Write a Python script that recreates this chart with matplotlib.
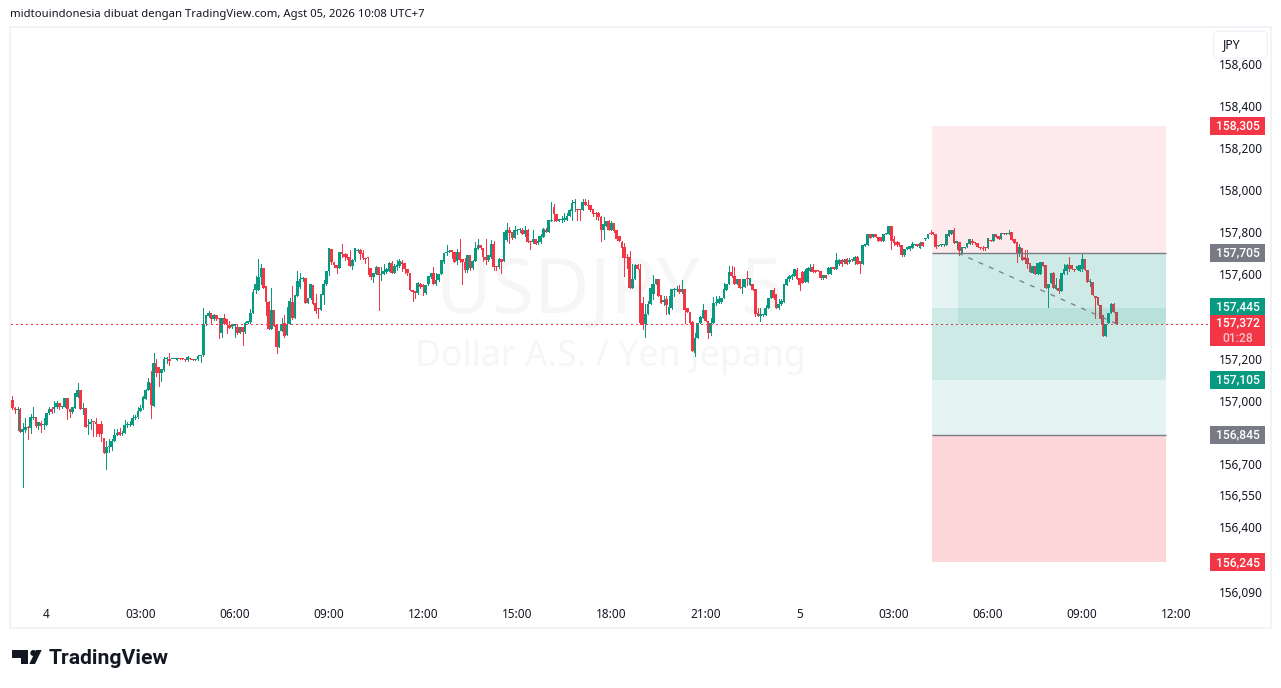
#!/usr/bin/env python3
import numpy as np
import matplotlib
matplotlib.use("Agg")
import matplotlib.pyplot as plt
from matplotlib.patches import Rectangle, Polygon, Circle, FancyBboxPatch
from matplotlib.transforms import ScaledTranslation

UP = "#089981"
DOWN = "#f23645"
GREY = "#787b86"
TEXT = "#131722"
OUT = "out.png"

# 5 minute bars
opens = [
    157.010, 156.975, 156.963, 156.971, 156.860, 156.870, 156.883, 156.878, 156.925, 156.930,
    156.889, 156.905, 156.894, 156.894, 156.949, 156.967, 156.967, 156.978, 156.996, 156.978,
    156.978, 157.019, 156.967, 156.955, 156.974, 157.024, 157.057, 156.969, 156.972, 156.887,
    156.899, 156.912, 156.908, 156.898, 156.898, 156.831, 156.760, 156.788, 156.788, 156.820,
    156.848, 156.859, 156.850, 156.854, 156.892, 156.892, 156.892, 156.925, 156.931, 156.960,
    156.972, 157.016, 157.059, 157.093, 156.982, 157.185, 157.169, 157.141, 157.155, 157.205,
    157.207, 157.205, 157.205, 157.200, 157.207, 157.207, 157.204, 157.200, 157.208, 157.207,
    157.201, 157.204, 157.219, 157.222, 157.369, 157.408, 157.421, 157.392, 157.411, 157.400,
    157.326, 157.400, 157.392, 157.366, 157.355, 157.361, 157.355, 157.328, 157.355, 157.334,
    157.377, 157.380, 157.424, 157.529, 157.531, 157.594, 157.633, 157.550, 157.476, 157.345,
    157.435, 157.364, 157.262, 157.337, 157.373, 157.317, 157.372, 157.474, 157.400, 157.502,
    157.545, 157.581, 157.586, 157.471, 157.491, 157.554, 157.468, 157.444, 157.435, 157.507,
    157.557, 157.619, 157.726, 157.663, 157.650, 157.633, 157.712, 157.702, 157.699, 157.685,
    157.644, 157.672, 157.715, 157.718, 157.704, 157.683, 157.683, 157.636, 157.594, 157.605,
    157.639, 157.601, 157.605, 157.617, 157.620, 157.660, 157.612, 157.639, 157.644, 157.663,
    157.660, 157.631, 157.609, 157.529, 157.528, 157.515, 157.560, 157.555, 157.517, 157.557,
    157.591, 157.609, 157.561, 157.577, 157.604, 157.662, 157.703, 157.711, 157.719, 157.712,
    157.668, 157.712, 157.675, 157.662, 157.627, 157.695, 157.635, 157.667, 157.722, 157.745,
    157.727, 157.687, 157.671, 157.686, 157.750, 157.643, 157.640, 157.679, 157.667, 157.766,
    157.816, 157.805, 157.774, 157.811, 157.813, 157.813, 157.796, 157.813, 157.761, 157.756,
    157.769, 157.753, 157.756, 157.782, 157.816, 157.804, 157.856, 157.922, 157.890, 157.856,
    157.863, 157.863, 157.863, 157.879, 157.903, 157.939, 157.914, 157.911, 157.906, 157.947,
    157.934, 157.931, 157.911, 157.895, 157.892, 157.876, 157.816, 157.835, 157.856, 157.816,
    157.848, 157.814, 157.785, 157.759, 157.733, 157.686, 157.686, 157.538, 157.584, 157.649,
    157.631, 157.471, 157.368, 157.419, 157.463, 157.510, 157.557, 157.584, 157.505, 157.474,
    157.486, 157.416, 157.444, 157.531, 157.531, 157.534, 157.521, 157.534, 157.447, 157.427,
    157.381, 157.235, 157.306, 157.376, 157.400, 157.436, 157.384, 157.326, 157.373, 157.468,
    157.471, 157.474, 157.491, 157.531, 157.557, 157.615, 157.597, 157.560, 157.584, 157.542,
    157.545, 157.589, 157.554, 157.560, 157.534, 157.424, 157.408, 157.413, 157.411, 157.447,
    157.494, 157.530, 157.510, 157.447, 157.463, 157.476, 157.553, 157.584, 157.593, 157.597,
    157.623, 157.586, 157.617, 157.570, 157.570, 157.620, 157.641, 157.623, 157.623, 157.620,
    157.586, 157.600, 157.607, 157.607, 157.638, 157.632, 157.651, 157.670, 157.664, 157.675,
    157.664, 157.675, 157.667, 157.686, 157.667, 157.651, 157.738, 157.742, 157.796, 157.780,
    157.793, 157.782, 157.782, 157.761, 157.793, 157.796, 157.835, 157.769, 157.758, 157.758,
    157.742, 157.695, 157.722, 157.722, 157.730, 157.742, 157.749, 157.727, 157.756, 157.769,
    157.774, 157.800, 157.805, 157.793, 157.738, 157.742, 157.741, 157.742, 157.785, 157.793,
    157.816, 157.753, 157.759, 157.707, 157.727, 157.733, 157.749, 157.760, 157.754, 157.751,
    157.735, 157.730, 157.732, 157.730, 157.766, 157.762, 157.795, 157.785, 157.770, 157.801,
    157.795, 157.795, 157.806, 157.770, 157.759, 157.707, 157.730, 157.686, 157.683, 157.656,
    157.612, 157.644, 157.608, 157.608, 157.664, 157.647, 157.542, 157.562, 157.609, 157.537,
    157.542, 157.526, 157.604, 157.620, 157.647, 157.647, 157.628, 157.628, 157.620, 157.628,
    157.675, 157.623, 157.568, 157.570, 157.499, 157.499, 157.458, 157.411, 157.313, 157.373,
    157.420, 157.463, 157.427,
]
highs = [
    157.030, 156.980, 156.980, 156.974, 156.902, 156.925, 156.889, 156.944, 156.977, 156.930,
    156.908, 156.911, 156.925, 156.952, 156.980, 156.980, 157.005, 157.005, 156.996, 156.985,
    157.019, 157.019, 156.970, 156.977, 157.046, 157.090, 157.057, 156.996, 156.972, 156.920,
    156.920, 156.912, 156.928, 156.898, 156.911, 156.834, 156.816, 156.826, 156.829, 156.873,
    156.873, 156.881, 156.864, 156.919, 156.908, 156.911, 156.939, 156.939, 156.980, 156.990,
    157.030, 157.065, 157.115, 157.147, 157.232, 157.203, 157.169, 157.156, 157.213, 157.216,
    157.232, 157.207, 157.207, 157.211, 157.209, 157.208, 157.207, 157.219, 157.211, 157.207,
    157.207, 157.222, 157.222, 157.447, 157.411, 157.432, 157.421, 157.418, 157.411, 157.400,
    157.400, 157.416, 157.395, 157.386, 157.366, 157.369, 157.369, 157.355, 157.355, 157.380,
    157.386, 157.443, 157.534, 157.597, 157.675, 157.652, 157.633, 157.550, 157.479, 157.542,
    157.435, 157.369, 157.337, 157.400, 157.411, 157.452, 157.495, 157.550, 157.505, 157.620,
    157.609, 157.592, 157.586, 157.495, 157.557, 157.554, 157.510, 157.444, 157.513, 157.578,
    157.619, 157.730, 157.726, 157.663, 157.650, 157.712, 157.749, 157.707, 157.699, 157.719,
    157.675, 157.729, 157.726, 157.723, 157.719, 157.683, 157.683, 157.636, 157.609, 157.644,
    157.639, 157.639, 157.652, 157.636, 157.664, 157.668, 157.652, 157.672, 157.675, 157.672,
    157.660, 157.631, 157.609, 157.529, 157.528, 157.570, 157.563, 157.560, 157.554, 157.597,
    157.609, 157.637, 157.609, 157.607, 157.670, 157.703, 157.745, 157.721, 157.721, 157.712,
    157.722, 157.772, 157.675, 157.683, 157.698, 157.698, 157.670, 157.756, 157.772, 157.745,
    157.727, 157.769, 157.694, 157.766, 157.761, 157.643, 157.683, 157.679, 157.805, 157.845,
    157.827, 157.805, 157.835, 157.819, 157.824, 157.821, 157.832, 157.819, 157.761, 157.816,
    157.772, 157.785, 157.793, 157.824, 157.824, 157.863, 157.948, 157.936, 157.890, 157.867,
    157.879, 157.895, 157.895, 157.914, 157.955, 157.958, 157.914, 157.911, 157.958, 157.958,
    157.955, 157.931, 157.911, 157.901, 157.898, 157.882, 157.876, 157.856, 157.860, 157.856,
    157.848, 157.814, 157.785, 157.762, 157.751, 157.701, 157.714, 157.652, 157.652, 157.652,
    157.652, 157.499, 157.463, 157.479, 157.557, 157.600, 157.584, 157.584, 157.505, 157.502,
    157.502, 157.502, 157.534, 157.542, 157.549, 157.553, 157.576, 157.534, 157.447, 157.427,
    157.384, 157.329, 157.376, 157.408, 157.463, 157.436, 157.384, 157.400, 157.499, 157.502,
    157.502, 157.494, 157.565, 157.557, 157.644, 157.644, 157.641, 157.584, 157.584, 157.584,
    157.584, 157.620, 157.589, 157.560, 157.534, 157.447, 157.447, 157.419, 157.458, 157.494,
    157.530, 157.542, 157.510, 157.486, 157.486, 157.557, 157.593, 157.600, 157.604, 157.628,
    157.636, 157.586, 157.620, 157.628, 157.641, 157.652, 157.652, 157.623, 157.623, 157.620,
    157.600, 157.600, 157.640, 157.638, 157.640, 157.703, 157.675, 157.679, 157.679, 157.683,
    157.683, 157.675, 157.690, 157.690, 157.667, 157.742, 157.749, 157.796, 157.796, 157.793,
    157.793, 157.782, 157.782, 157.796, 157.800, 157.835, 157.835, 157.785, 157.761, 157.758,
    157.742, 157.722, 157.735, 157.738, 157.758, 157.749, 157.749, 157.755, 157.756, 157.774,
    157.796, 157.813, 157.805, 157.793, 157.745, 157.745, 157.745, 157.793, 157.816, 157.816,
    157.821, 157.761, 157.759, 157.735, 157.735, 157.754, 157.770, 157.773, 157.754, 157.751,
    157.735, 157.738, 157.732, 157.774, 157.766, 157.795, 157.795, 157.785, 157.798, 157.801,
    157.801, 157.812, 157.806, 157.770, 157.759, 157.746, 157.730, 157.718, 157.718, 157.656,
    157.644, 157.644, 157.660, 157.664, 157.664, 157.647, 157.557, 157.609, 157.615, 157.586,
    157.584, 157.612, 157.652, 157.655, 157.686, 157.647, 157.628, 157.644, 157.647, 157.707,
    157.675, 157.623, 157.584, 157.570, 157.499, 157.499, 157.458, 157.411, 157.372, 157.420,
    157.467, 157.467, 157.427,
]
lows = [
    156.967, 156.949, 156.868, 156.862, 156.601, 156.860, 156.826, 156.857, 156.920, 156.884,
    156.873, 156.860, 156.873, 156.894, 156.945, 156.951, 156.955, 156.974, 156.971, 156.975,
    156.978, 156.920, 156.930, 156.952, 156.974, 157.024, 156.968, 156.945, 156.884, 156.850,
    156.873, 156.840, 156.840, 156.842, 156.818, 156.760, 156.684, 156.768, 156.775, 156.820,
    156.848, 156.848, 156.845, 156.854, 156.884, 156.889, 156.892, 156.920, 156.928, 156.958,
    156.967, 157.015, 157.059, 156.925, 156.982, 157.125, 157.078, 157.100, 157.150, 157.185,
    157.175, 157.203, 157.204, 157.198, 157.203, 157.203, 157.197, 157.197, 157.203, 157.200,
    157.200, 157.200, 157.190, 157.219, 157.364, 157.405, 157.369, 157.389, 157.389, 157.303,
    157.307, 157.369, 157.329, 157.350, 157.350, 157.310, 157.321, 157.326, 157.270, 157.329,
    157.375, 157.377, 157.421, 157.518, 157.531, 157.557, 157.539, 157.411, 157.345, 157.345,
    157.361, 157.232, 157.262, 157.337, 157.310, 157.317, 157.369, 157.392, 157.400, 157.502,
    157.542, 157.573, 157.471, 157.471, 157.487, 157.463, 157.424, 157.397, 157.435, 157.463,
    157.554, 157.600, 157.652, 157.641, 157.612, 157.633, 157.688, 157.672, 157.675, 157.644,
    157.628, 157.668, 157.712, 157.675, 157.675, 157.660, 157.605, 157.584, 157.570, 157.605,
    157.435, 157.578, 157.605, 157.612, 157.620, 157.609, 157.612, 157.625, 157.641, 157.620,
    157.612, 157.601, 157.529, 157.479, 157.491, 157.510, 157.540, 157.505, 157.512, 157.553,
    157.588, 157.561, 157.554, 157.575, 157.604, 157.660, 157.698, 157.708, 157.683, 157.662,
    157.651, 157.665, 157.557, 157.615, 157.616, 157.627, 157.632, 157.667, 157.722, 157.722,
    157.667, 157.651, 157.667, 157.683, 157.627, 157.623, 157.635, 157.612, 157.667, 157.761,
    157.753, 157.769, 157.774, 157.793, 157.804, 157.793, 157.785, 157.756, 157.725, 157.753,
    157.750, 157.750, 157.753, 157.780, 157.804, 157.804, 157.856, 157.854, 157.854, 157.856,
    157.852, 157.856, 157.860, 157.879, 157.860, 157.903, 157.860, 157.860, 157.906, 157.930,
    157.911, 157.903, 157.882, 157.867, 157.860, 157.761, 157.772, 157.832, 157.813, 157.813,
    157.806, 157.768, 157.760, 157.686, 157.597, 157.634, 157.538, 157.538, 157.581, 157.628,
    157.368, 157.348, 157.310, 157.416, 157.463, 157.486, 157.557, 157.502, 157.470, 157.458,
    157.419, 157.416, 157.442, 157.502, 157.526, 157.515, 157.515, 157.376, 157.425, 157.368,
    157.243, 157.219, 157.306, 157.373, 157.400, 157.384, 157.302, 157.317, 157.373, 157.458,
    157.471, 157.471, 157.491, 157.531, 157.557, 157.592, 157.557, 157.558, 157.542, 157.518,
    157.545, 157.553, 157.552, 157.530, 157.408, 157.408, 157.384, 157.410, 157.411, 157.447,
    157.494, 157.486, 157.447, 157.442, 157.458, 157.476, 157.553, 157.573, 157.584, 157.597,
    157.581, 157.530, 157.565, 157.570, 157.570, 157.620, 157.617, 157.615, 157.618, 157.581,
    157.584, 157.586, 157.605, 157.607, 157.630, 157.632, 157.650, 157.643, 157.657, 157.651,
    157.660, 157.668, 157.654, 157.651, 157.612, 157.651, 157.736, 157.742, 157.777, 157.780,
    157.780, 157.761, 157.761, 157.761, 157.793, 157.796, 157.722, 157.745, 157.740, 157.740,
    157.692, 157.692, 157.722, 157.720, 157.730, 157.742, 157.738, 157.727, 157.738, 157.767,
    157.774, 157.796, 157.793, 157.730, 157.736, 157.740, 157.739, 157.742, 157.785, 157.793,
    157.753, 157.722, 157.694, 157.705, 157.727, 157.733, 157.749, 157.750, 157.750, 157.732,
    157.726, 157.718, 157.719, 157.730, 157.760, 157.762, 157.782, 157.773, 157.770, 157.796,
    157.795, 157.795, 157.765, 157.751, 157.663, 157.691, 157.672, 157.660, 157.636, 157.615,
    157.612, 157.608, 157.608, 157.608, 157.644, 157.542, 157.452, 157.562, 157.538, 157.537,
    157.515, 157.526, 157.604, 157.604, 157.620, 157.628, 157.621, 157.628, 157.620, 157.620,
    157.623, 157.568, 157.549, 157.505, 157.397, 157.458, 157.376, 157.313, 157.313, 157.373,
    157.420, 157.427, 157.372,
]
closes = [
    156.972, 156.964, 156.967, 156.862, 156.873, 156.883, 156.878, 156.930, 156.930, 156.887,
    156.908, 156.889, 156.900, 156.949, 156.967, 156.953, 156.980, 156.996, 156.977, 156.982,
    157.019, 156.967, 156.955, 156.977, 157.046, 157.057, 156.969, 156.972, 156.884, 156.892,
    156.909, 156.908, 156.898, 156.850, 156.851, 156.760, 156.788, 156.790, 156.820, 156.848,
    156.857, 156.848, 156.857, 156.895, 156.895, 156.897, 156.925, 156.933, 156.961, 156.972,
    157.026, 157.059, 157.096, 156.986, 157.185, 157.141, 157.141, 157.156, 157.207, 157.207,
    157.194, 157.207, 157.207, 157.211, 157.204, 157.204, 157.202, 157.213, 157.205, 157.201,
    157.207, 157.219, 157.222, 157.372, 157.411, 157.421, 157.392, 157.411, 157.392, 157.392,
    157.400, 157.370, 157.366, 157.350, 157.366, 157.369, 157.329, 157.355, 157.334, 157.377,
    157.384, 157.424, 157.523, 157.561, 157.594, 157.633, 157.539, 157.476, 157.345, 157.435,
    157.361, 157.262, 157.337, 157.369, 157.314, 157.372, 157.479, 157.400, 157.505, 157.573,
    157.584, 157.586, 157.471, 157.495, 157.557, 157.463, 157.430, 157.439, 157.513, 157.557,
    157.619, 157.727, 157.663, 157.650, 157.635, 157.712, 157.699, 157.686, 157.683, 157.644,
    157.672, 157.729, 157.718, 157.699, 157.680, 157.679, 157.680, 157.594, 157.609, 157.639,
    157.601, 157.608, 157.620, 157.631, 157.660, 157.609, 157.644, 157.647, 157.668, 157.655,
    157.628, 157.609, 157.529, 157.521, 157.518, 157.562, 157.544, 157.545, 157.554, 157.596,
    157.609, 157.561, 157.577, 157.607, 157.670, 157.703, 157.711, 157.717, 157.711, 157.665,
    157.712, 157.671, 157.665, 157.627, 157.695, 157.635, 157.667, 157.730, 157.745, 157.727,
    157.686, 157.671, 157.694, 157.750, 157.640, 157.640, 157.679, 157.662, 157.805, 157.816,
    157.800, 157.774, 157.816, 157.816, 157.816, 157.793, 157.813, 157.756, 157.756, 157.769,
    157.750, 157.761, 157.785, 157.819, 157.804, 157.863, 157.863, 157.890, 157.856, 157.867,
    157.867, 157.871, 157.882, 157.907, 157.942, 157.942, 157.907, 157.906, 157.947, 157.930,
    157.928, 157.907, 157.890, 157.887, 157.876, 157.816, 157.840, 157.856, 157.816, 157.848,
    157.809, 157.770, 157.762, 157.730, 157.683, 157.683, 157.538, 157.584, 157.649, 157.631,
    157.376, 157.368, 157.419, 157.463, 157.538, 157.557, 157.584, 157.502, 157.471, 157.483,
    157.458, 157.450, 157.534, 157.534, 157.537, 157.521, 157.534, 157.436, 157.427, 157.373,
    157.243, 157.306, 157.376, 157.403, 157.436, 157.384, 157.329, 157.376, 157.471, 157.474,
    157.486, 157.494, 157.534, 157.557, 157.615, 157.597, 157.557, 157.584, 157.542, 157.546,
    157.584, 157.581, 157.589, 157.530, 157.416, 157.408, 157.419, 157.419, 157.447, 157.494,
    157.530, 157.494, 157.447, 157.463, 157.479, 157.557, 157.584, 157.597, 157.600, 157.628,
    157.584, 157.553, 157.565, 157.620, 157.636, 157.636, 157.617, 157.617, 157.620, 157.586,
    157.600, 157.586, 157.635, 157.638, 157.632, 157.670, 157.670, 157.651, 157.670, 157.651,
    157.670, 157.670, 157.686, 157.654, 157.651, 157.742, 157.749, 157.793, 157.777, 157.793,
    157.780, 157.761, 157.761, 157.796, 157.800, 157.835, 157.761, 157.753, 157.742, 157.741,
    157.695, 157.722, 157.734, 157.738, 157.749, 157.749, 157.738, 157.753, 157.738, 157.774,
    157.796, 157.796, 157.793, 157.734, 157.742, 157.745, 157.745, 157.793, 157.813, 157.816,
    157.753, 157.761, 157.715, 157.735, 157.735, 157.754, 157.770, 157.751, 157.751, 157.732,
    157.727, 157.722, 157.727, 157.774, 157.762, 157.795, 157.782, 157.773, 157.798, 157.796,
    157.801, 157.801, 157.765, 157.751, 157.707, 157.735, 157.672, 157.672, 157.652, 157.615,
    157.644, 157.608, 157.660, 157.664, 157.644, 157.542, 157.557, 157.609, 157.538, 157.554,
    157.526, 157.612, 157.631, 157.647, 157.628, 157.628, 157.623, 157.644, 157.647, 157.675,
    157.623, 157.568, 157.572, 157.505, 157.495, 157.458, 157.392, 157.313, 157.372, 157.420,
    157.463, 157.427, 157.372,
]

time_bars = [13, 49, 85, 121, 157, 193, 229, 265, 301, 337, 373, 409, 445]
time_labels = ["4", "03:00", "06:00", "09:00", "12:00", "15:00", "18:00", "21:00",
               "5", "03:00", "06:00", "09:00", "12:00"]
price_ticks = [158.6, 158.4, 158.2, 158.0, 157.8, 157.6, 157.2, 157.0, 156.7, 156.55, 156.4, 156.09]
price_labels = ["158,600", "158,400", "158,200", "158,000", "157,800", "157,600",
                "157,200", "157,000", "156,700", "156,550", "156,400", "156,090"]

last_price = 157.372
short_entry, short_stop, short_target = 157.705, 158.305, 157.105
long_entry, long_stop, long_target = 156.845, 156.245, 157.445
tool_left, tool_right, tool_hit = 351.6, 441.0, 361.5

# pixel geometry of the pane
W, H = 1281, 688
PANE_L, PANE_R, PANE_T, PANE_B = 11, 1209, 28, 600
BAR0_X, BAR_PX = 12.3, 2.616
PRICE0, PRICE0_Y, PX_PER_UNIT = 158.6, 63.4, 211.9


def price_y(p):
    return PRICE0_Y + (PRICE0 - p) * PX_PER_UNIT


def draw_tag(chrome, y, height, color, text, sub=None):
    chrome.add_patch(Rectangle((1210, y - height / 2), 55, height, facecolor=color, edgecolor="none"))
    style = dict(ha="center", va="center", fontsize=8.7, fontweight="medium", family=["Roboto", "DejaVu Sans"])
    if sub is None:
        chrome.text(1238, y, text, color="white", **style)
    else:
        chrome.text(1238, y - 7.5, text, color="white", **style)
        chrome.text(1238, y + 7.5, sub, color="#fcc5ca", **style)


def main():
    plt.rcParams["font.family"] = ["Noto Sans", "DejaVu Sans"]
    fig = plt.figure(figsize=(W / 100, H / 100), dpi=100, facecolor="white")
    ax = fig.add_axes([PANE_L / W, 1 - PANE_B / H, (PANE_R - PANE_L) / W, (PANE_B - PANE_T) / H])
    ax.set_xlim((PANE_L - BAR0_X) / BAR_PX, (PANE_R - BAR0_X) / BAR_PX)
    ax.set_ylim(PRICE0 - (PANE_B - PRICE0_Y) / PX_PER_UNIT, PRICE0 + (PRICE0_Y - PANE_T) / PX_PER_UNIT)
    for side in ax.spines.values():
        side.set_visible(False)

    # watermark
    ax.text(0.5, 0.536, "USDJPY, 5", transform=ax.transAxes, ha="center", va="center",
            fontsize=55, color="#f6f6f6", zorder=1)
    ax.text(0.5, 0.424, "Dollar A.S. / Yen Jepang", transform=ax.transAxes, ha="center", va="center",
            fontsize=25.7, color="#f6f6f6", zorder=1)

    o = np.array(opens)
    h = np.array(highs)
    l = np.array(lows)
    c = np.array(closes)
    x = np.arange(len(c))
    rising = c >= o
    colors = np.where(rising, UP, DOWN)

    ax.vlines(x, l, h, colors=colors, linewidth=0.72, zorder=2, antialiased=False)
    body = np.maximum(np.abs(c - o), 0.005)
    ax.bar(x, body, bottom=np.minimum(o, c), width=1.0, color=colors, linewidth=0, zorder=2.1, antialiased=False)

    # the two position tools, drawn over the candles
    ax.axhline(last_price, color=DOWN, linewidth=0.8, linestyle=(0, (1, 2.75)), zorder=2.5, antialiased=False)
    width = tool_right - tool_left
    ax.add_patch(Rectangle((tool_left, short_entry), width, short_stop - short_entry,
                           facecolor=DOWN, alpha=0.1, linewidth=0, zorder=3))
    ax.add_patch(Rectangle((tool_left, short_target), width, short_entry - short_target,
                           facecolor=UP, alpha=0.1, linewidth=0, zorder=3))
    ax.add_patch(Rectangle((tool_left, long_entry), width, long_target - long_entry,
                           facecolor=UP, alpha=0.1, linewidth=0, zorder=3))
    ax.add_patch(Rectangle((tool_left, long_stop), width, long_entry - long_stop,
                           facecolor=DOWN, alpha=0.2, linewidth=0, zorder=3))
    ax.add_patch(Rectangle((tool_hit, last_price), tool_right - tool_hit, short_entry - last_price,
                           facecolor=UP, alpha=0.1, linewidth=0, zorder=3))
    ax.hlines([short_entry, long_entry], tool_left, tool_right, color=GREY, linewidth=1.0, zorder=4)
    ax.plot([tool_hit, len(c) - 1], [short_entry, last_price], color=GREY, linewidth=0.9,
            linestyle=(0, (4, 5)), zorder=4)

    ax.set_xticks(time_bars)
    ax.set_xticklabels(time_labels, fontsize=8.5, color=TEXT)
    nudge = ScaledTranslation(-0.8 / 100, 0, fig.dpi_scale_trans)
    for lab, txt in zip(ax.get_xticklabels(), time_labels):
        lab.set_transform(lab.get_transform() + nudge)
        if len(txt) == 1:
            lab.set_fontweight("bold")
    ax.yaxis.tick_right()
    ax.set_yticks(price_ticks)
    ax.set_yticklabels(price_labels, fontsize=8.5, color=TEXT)
    ax.tick_params(axis="both", length=0)
    ax.tick_params(axis="x", pad=5.5)
    ax.tick_params(axis="y", pad=7)
    # the price labels sit on a slightly tighter spacing than the candles
    for lab, p in zip(ax.get_yticklabels(), price_ticks):
        lift = ((PRICE0 - p) * 1.5 - 0.6) / 100
        lab.set_transform(lab.get_transform() + ScaledTranslation(0, lift, fig.dpi_scale_trans))

    # everything around the pane, in picture pixels
    chrome = fig.add_axes([0, 0, 1, 1], facecolor="none", zorder=5)
    chrome.set_xlim(0, W)
    chrome.set_ylim(H, 0)
    chrome.axis("off")
    chrome.add_patch(Rectangle((10, 27), 1260.5, 601, facecolor="none", edgecolor="#f2f3f5", linewidth=1.4))
    chrome.text(10, 15, "midtouindonesia dibuat dengan TradingView.com, Agst 05, 2026 10:08 UTC+7",
                ha="left", va="center", fontsize=8.15, color=TEXT)

    chrome.add_patch(FancyBboxPatch((1214.5, 32.5), 52, 25, boxstyle="round,pad=1,rounding_size=4",
                                    facecolor="white", edgecolor="#f0f3fa", linewidth=1))
    chrome.text(1232, 44.5, "JPY", ha="center", va="center", fontsize=8.8, color=TEXT)

    draw_tag(chrome, price_y(short_stop), 18, DOWN, "158,305")
    draw_tag(chrome, price_y(short_entry), 18, GREY, "157,705")
    draw_tag(chrome, price_y(long_target) - 1.5, 17, UP, "157,445")
    draw_tag(chrome, 330.5, 31, DOWN, "157,372", "01:28")
    draw_tag(chrome, price_y(short_target), 18, UP, "157,105")
    draw_tag(chrome, price_y(long_entry) - 0.5, 18, GREY, "156,845")
    draw_tag(chrome, price_y(long_stop), 18, DOWN, "156,245")

    # TradingView logo
    chrome.add_patch(Polygon([(12.3, 650), (28.3, 650), (28.3, 664), (20.5, 664), (20.5, 657.5), (12.3, 657.5)],
                             facecolor=TEXT, edgecolor="none"))
    chrome.add_patch(Circle((33.3, 653), 3, facecolor=TEXT, edgecolor="none"))
    chrome.add_patch(Polygon([(36, 650), (41.7, 650), (35, 664), (29.3, 664)], facecolor=TEXT, edgecolor="none"))
    chrome.text(48.5, 658, "TradingView", ha="left", va="center", fontsize=15.2, fontweight="bold",
                family=["Roboto", "DejaVu Sans"], color=TEXT)

    fig.savefig(OUT, dpi=100)


if __name__ == "__main__":
    main()
